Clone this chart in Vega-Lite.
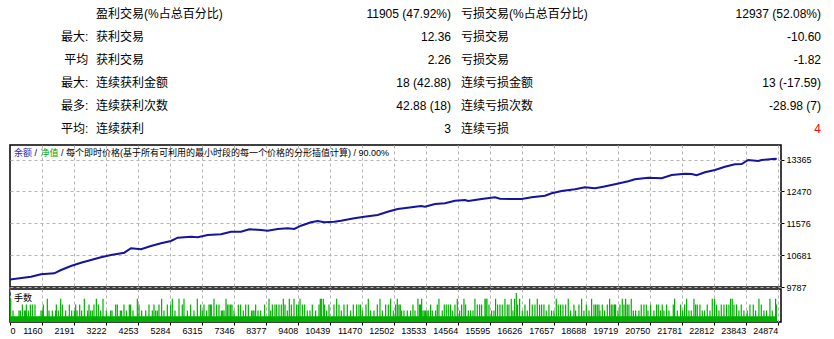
{
  "$schema": "https://vega.github.io/schema/vega-lite/v6.json",
  "background": "white",
  "padding": {"left": 8, "top": 0, "right": 0, "bottom": 0},
  "bounds": "flush",
  "spacing": 2,
  "config": {
    "font": "Liberation Sans",
    "view": {"stroke": "black", "strokeWidth": 1.5},
    "axis": {"labelFont": "Liberation Sans", "labelColor": "black", "labelFontSize": 9, "title": null, "tickCount": 200}
  },
  "datasets": {
    "stats": [
      {"row": 1, "col": 2, "text": "盈利交易(%占总百分比)"},
      {"row": 1, "col": 3, "text": "11905 (47.92%)"},
      {"row": 1, "col": 4, "text": "亏损交易(%占总百分比)"},
      {"row": 1, "col": 5, "text": "12937 (52.08%)"},
      {"row": 2, "col": 1, "text": "最大:"},
      {"row": 2, "col": 2, "text": "获利交易"},
      {"row": 2, "col": 3, "text": "12.36"},
      {"row": 2, "col": 4, "text": "亏损交易"},
      {"row": 2, "col": 5, "text": "-10.60"},
      {"row": 3, "col": 1, "text": "平均"},
      {"row": 3, "col": 2, "text": "获利交易"},
      {"row": 3, "col": 3, "text": "2.26"},
      {"row": 3, "col": 4, "text": "亏损交易"},
      {"row": 3, "col": 5, "text": "-1.82"},
      {"row": 4, "col": 1, "text": "最大:"},
      {"row": 4, "col": 2, "text": "连续获利金额"},
      {"row": 4, "col": 3, "text": "18 (42.88)"},
      {"row": 4, "col": 4, "text": "连续亏损金额"},
      {"row": 4, "col": 5, "text": "13 (-17.59)"},
      {"row": 5, "col": 1, "text": "最多:"},
      {"row": 5, "col": 2, "text": "连续获利次数"},
      {"row": 5, "col": 3, "text": "42.88 (18)"},
      {"row": 5, "col": 4, "text": "连续亏损次数"},
      {"row": 5, "col": 5, "text": "-28.98 (7)"},
      {"row": 6, "col": 1, "text": "平均:"},
      {"row": 6, "col": 2, "text": "连续获利"},
      {"row": 6, "col": 3, "text": "3"},
      {"row": 6, "col": 4, "text": "连续亏损"},
      {"row": 6, "col": 5, "text": "4"}
    ],
    "balance": [
      {"trade": 129, "balance": 10000}, {"trade": 806, "balance": 10076}, {"trade": 1128, "balance": 10144},
      {"trade": 1557, "balance": 10172}, {"trade": 1773, "balance": 10264}, {"trade": 2095, "balance": 10377},
      {"trade": 2417, "balance": 10469}, {"trade": 2740, "balance": 10545}, {"trade": 3062, "balance": 10621},
      {"trade": 3384, "balance": 10686}, {"trade": 3813, "balance": 10750}, {"trade": 4029, "balance": 10874},
      {"trade": 4351, "balance": 10846}, {"trade": 4673, "balance": 10938}, {"trade": 4996, "balance": 11014},
      {"trade": 5318, "balance": 11079}, {"trade": 5534, "balance": 11171}, {"trade": 5963, "balance": 11199},
      {"trade": 6179, "balance": 11183}, {"trade": 6501, "balance": 11247}, {"trade": 6930, "balance": 11267},
      {"trade": 7252, "balance": 11340}, {"trade": 7574, "balance": 11340}, {"trade": 7842, "balance": 11407},
      {"trade": 8219, "balance": 11388}, {"trade": 8435, "balance": 11368}, {"trade": 8757, "balance": 11416},
      {"trade": 9079, "balance": 11435}, {"trade": 9292, "balance": 11416}, {"trade": 9508, "balance": 11508},
      {"trade": 9830, "balance": 11604}, {"trade": 10046, "balance": 11640}, {"trade": 10259, "balance": 11604},
      {"trade": 10581, "balance": 11621}, {"trade": 10797, "balance": 11649}, {"trade": 11226, "balance": 11716},
      {"trade": 11548, "balance": 11761}, {"trade": 11980, "balance": 11809}, {"trade": 12302, "balance": 11901},
      {"trade": 12625, "balance": 11977}, {"trade": 12947, "balance": 12014}, {"trade": 13376, "balance": 12061},
      {"trade": 13504, "balance": 12042}, {"trade": 13827, "balance": 12118}, {"trade": 14149, "balance": 12137},
      {"trade": 14471, "balance": 12210}, {"trade": 14794, "balance": 12230}, {"trade": 14900, "balance": 12202},
      {"trade": 15332, "balance": 12258}, {"trade": 15761, "balance": 12306}, {"trade": 15922, "balance": 12266},
      {"trade": 16299, "balance": 12258}, {"trade": 16621, "balance": 12258}, {"trade": 16943, "balance": 12306},
      {"trade": 17372, "balance": 12351}, {"trade": 17588, "balance": 12418}, {"trade": 17910, "balance": 12483},
      {"trade": 18339, "balance": 12530}, {"trade": 18661, "balance": 12587}, {"trade": 18984, "balance": 12558},
      {"trade": 19251, "balance": 12603}, {"trade": 19628, "balance": 12671}, {"trade": 20057, "balance": 12755},
      {"trade": 20273, "balance": 12811}, {"trade": 20701, "balance": 12856}, {"trade": 21133, "balance": 12839},
      {"trade": 21456, "balance": 12932}, {"trade": 21884, "balance": 12968}, {"trade": 22100, "balance": 12960},
      {"trade": 22261, "balance": 12923}, {"trade": 22529, "balance": 13008}, {"trade": 22851, "balance": 13072},
      {"trade": 23173, "balance": 13165}, {"trade": 23496, "balance": 13232}, {"trade": 23712, "balance": 13241},
      {"trade": 23924, "balance": 13353}, {"trade": 24247, "balance": 13325}, {"trade": 24356, "balance": 13353},
      {"trade": 24785, "balance": 13390}, {"trade": 24842, "balance": 13381}
    ],
    "caption": [
      {"part": "balance", "label": "余额"},
      {"part": "sep1", "label": "/"},
      {"part": "equity", "label": "净值"},
      {"part": "rest", "label": "/ 每个即时价格(基于所有可利用的最小时段的每一个价格的分形插值计算) / 90.00%"}
    ],
    "minLot": [{"first": 1, "last": 24842, "lots": 0.01}],
    "lots": [
      {"trade": 151, "lots": 0.04}, {"trade": 226, "lots": 0.02}, {"trade": 419, "lots": 0.02}, {"trade": 462, "lots": 0.02},
      {"trade": 527, "lots": 0.03}, {"trade": 591, "lots": 0.02}, {"trade": 634, "lots": 0.02}, {"trade": 656, "lots": 0.03},
      {"trade": 720, "lots": 0.02}, {"trade": 785, "lots": 0.03}, {"trade": 849, "lots": 0.03}, {"trade": 935, "lots": 0.03},
      {"trade": 1128, "lots": 0.02}, {"trade": 1171, "lots": 0.02}, {"trade": 1204, "lots": 0.03}, {"trade": 1332, "lots": 0.04},
      {"trade": 1386, "lots": 0.02}, {"trade": 1494, "lots": 0.02}, {"trade": 1601, "lots": 0.02}, {"trade": 1623, "lots": 0.03},
      {"trade": 1687, "lots": 0.02}, {"trade": 1762, "lots": 0.04}, {"trade": 1816, "lots": 0.03}, {"trade": 1923, "lots": 0.02},
      {"trade": 2041, "lots": 0.03}, {"trade": 2117, "lots": 0.02}, {"trade": 2203, "lots": 0.02}, {"trade": 2246, "lots": 0.03},
      {"trade": 2289, "lots": 0.02}, {"trade": 2375, "lots": 0.03}, {"trade": 2439, "lots": 0.02}, {"trade": 2525, "lots": 0.04},
      {"trade": 2632, "lots": 0.02}, {"trade": 2675, "lots": 0.03}, {"trade": 2729, "lots": 0.02}, {"trade": 2783, "lots": 0.02},
      {"trade": 2836, "lots": 0.03}, {"trade": 2912, "lots": 0.04}, {"trade": 2976, "lots": 0.03}, {"trade": 3051, "lots": 0.02},
      {"trade": 3127, "lots": 0.04}, {"trade": 3234, "lots": 0.02}, {"trade": 3374, "lots": 0.02}, {"trade": 3417, "lots": 0.02},
      {"trade": 3535, "lots": 0.03}, {"trade": 3588, "lots": 0.03}, {"trade": 3685, "lots": 0.02}, {"trade": 3728, "lots": 0.02},
      {"trade": 3803, "lots": 0.03}, {"trade": 3879, "lots": 0.02}, {"trade": 3975, "lots": 0.03}, {"trade": 4018, "lots": 0.03},
      {"trade": 4093, "lots": 0.02}, {"trade": 4233, "lots": 0.04}, {"trade": 4287, "lots": 0.03}, {"trade": 4373, "lots": 0.02},
      {"trade": 4502, "lots": 0.02}, {"trade": 4609, "lots": 0.03}, {"trade": 4716, "lots": 0.02}, {"trade": 4770, "lots": 0.03},
      {"trade": 4824, "lots": 0.02}, {"trade": 4878, "lots": 0.02}, {"trade": 4931, "lots": 0.03}, {"trade": 5017, "lots": 0.04},
      {"trade": 5092, "lots": 0.02}, {"trade": 5200, "lots": 0.03}, {"trade": 5307, "lots": 0.03}, {"trade": 5361, "lots": 0.04},
      {"trade": 5447, "lots": 0.02}, {"trade": 5576, "lots": 0.04}, {"trade": 5683, "lots": 0.03}, {"trade": 5737, "lots": 0.04},
      {"trade": 5845, "lots": 0.02}, {"trade": 5952, "lots": 0.03}, {"trade": 6059, "lots": 0.02}, {"trade": 6167, "lots": 0.04},
      {"trade": 6274, "lots": 0.03}, {"trade": 6328, "lots": 0.02},
      {"trade": 6382, "lots": 0.03}, {"trade": 6468, "lots": 0.02}, {"trade": 6543, "lots": 0.03}, {"trade": 6586, "lots": 0.03},
      {"trade": 6618, "lots": 0.03}, {"trade": 6704, "lots": 0.04}, {"trade": 6790, "lots": 0.03}, {"trade": 6865, "lots": 0.03},
      {"trade": 6941, "lots": 0.02}, {"trade": 6984, "lots": 0.02}, {"trade": 7027, "lots": 0.02}, {"trade": 7091, "lots": 0.04},
      {"trade": 7134, "lots": 0.03}, {"trade": 7188, "lots": 0.03}, {"trade": 7241, "lots": 0.03}, {"trade": 7284, "lots": 0.03},
      {"trade": 7349, "lots": 0.02}, {"trade": 7489, "lots": 0.03}, {"trade": 7564, "lots": 0.03}, {"trade": 7649, "lots": 0.02},
      {"trade": 7725, "lots": 0.03}, {"trade": 7811, "lots": 0.03}, {"trade": 7918, "lots": 0.02}, {"trade": 7961, "lots": 0.02},
      {"trade": 7993, "lots": 0.02}, {"trade": 8047, "lots": 0.03}, {"trade": 8122, "lots": 0.02}, {"trade": 8208, "lots": 0.02},
      {"trade": 8337, "lots": 0.03}, {"trade": 8477, "lots": 0.04}, {"trade": 8531, "lots": 0.02}, {"trade": 8585, "lots": 0.03},
      {"trade": 8670, "lots": 0.03}, {"trade": 8724, "lots": 0.03}, {"trade": 8799, "lots": 0.03}, {"trade": 8874, "lots": 0.03},
      {"trade": 8939, "lots": 0.04}, {"trade": 8993, "lots": 0.03}, {"trade": 9068, "lots": 0.02}, {"trade": 9132, "lots": 0.04},
      {"trade": 9197, "lots": 0.03}, {"trade": 9283, "lots": 0.04}, {"trade": 9369, "lots": 0.03}, {"trade": 9422, "lots": 0.03},
      {"trade": 9476, "lots": 0.04}, {"trade": 9551, "lots": 0.03}, {"trade": 9626, "lots": 0.03}, {"trade": 9712, "lots": 0.02},
      {"trade": 9798, "lots": 0.02}, {"trade": 9873, "lots": 0.03}, {"trade": 9981, "lots": 0.02}, {"trade": 10088, "lots": 0.03},
      {"trade": 10131, "lots": 0.04}, {"trade": 10164, "lots": 0.04}, {"trade": 10228, "lots": 0.04}, {"trade": 10271, "lots": 0.03},
      {"trade": 10335, "lots": 0.02}, {"trade": 10411, "lots": 0.03}, {"trade": 10572, "lots": 0.03}, {"trade": 10658, "lots": 0.04},
      {"trade": 10733, "lots": 0.03}, {"trade": 10808, "lots": 0.02}, {"trade": 10894, "lots": 0.03}, {"trade": 11001, "lots": 0.03},
      {"trade": 11109, "lots": 0.02}, {"trade": 11195, "lots": 0.03}, {"trade": 11302, "lots": 0.03}, {"trade": 11377, "lots": 0.03},
      {"trade": 11431, "lots": 0.03}, {"trade": 11485, "lots": 0.02}, {"trade": 11603, "lots": 0.03}, {"trade": 11678, "lots": 0.04},
      {"trade": 11754, "lots": 0.02}, {"trade": 11861, "lots": 0.02}, {"trade": 11968, "lots": 0.03}, {"trade": 12054, "lots": 0.04},
      {"trade": 12130, "lots": 0.02}, {"trade": 12237, "lots": 0.03}, {"trade": 12323, "lots": 0.03}, {"trade": 12398, "lots": 0.04},
      {"trade": 12484, "lots": 0.02}, {"trade": 12559, "lots": 0.03}, {"trade": 12613, "lots": 0.04},
      {"trade": 12666, "lots": 0.03}, {"trade": 12709, "lots": 0.03}, {"trade": 12752, "lots": 0.02}, {"trade": 12827, "lots": 0.02},
      {"trade": 12935, "lots": 0.02}, {"trade": 13042, "lots": 0.02}, {"trade": 13117, "lots": 0.03}, {"trade": 13182, "lots": 0.02},
      {"trade": 13278, "lots": 0.04}, {"trade": 13332, "lots": 0.03}, {"trade": 13364, "lots": 0.03}, {"trade": 13397, "lots": 0.04},
      {"trade": 13439, "lots": 0.02}, {"trade": 13482, "lots": 0.02}, {"trade": 13525, "lots": 0.02}, {"trade": 13568, "lots": 0.02},
      {"trade": 13611, "lots": 0.02}, {"trade": 13687, "lots": 0.03}, {"trade": 13740, "lots": 0.02}, {"trade": 13848, "lots": 0.02},
      {"trade": 13901, "lots": 0.03}, {"trade": 13955, "lots": 0.04}, {"trade": 14062, "lots": 0.02}, {"trade": 14127, "lots": 0.03},
      {"trade": 14191, "lots": 0.03}, {"trade": 14256, "lots": 0.03}, {"trade": 14331, "lots": 0.03}, {"trade": 14385, "lots": 0.02},
      {"trade": 14471, "lots": 0.03}, {"trade": 14546, "lots": 0.04}, {"trade": 14621, "lots": 0.02}, {"trade": 14686, "lots": 0.03},
      {"trade": 14761, "lots": 0.04}, {"trade": 14815, "lots": 0.03}, {"trade": 14901, "lots": 0.02}, {"trade": 14976, "lots": 0.02},
      {"trade": 15051, "lots": 0.02}, {"trade": 15115, "lots": 0.04}, {"trade": 15191, "lots": 0.03}, {"trade": 15266, "lots": 0.03},
      {"trade": 15330, "lots": 0.03}, {"trade": 15438, "lots": 0.04}, {"trade": 15470, "lots": 0.04}, {"trade": 15502, "lots": 0.04},
      {"trade": 15567, "lots": 0.03}, {"trade": 15653, "lots": 0.02}, {"trade": 15728, "lots": 0.02}, {"trade": 15781, "lots": 0.04},
      {"trade": 15846, "lots": 0.03}, {"trade": 15921, "lots": 0.03}, {"trade": 15996, "lots": 0.03}, {"trade": 16082, "lots": 0.04},
      {"trade": 16157, "lots": 0.03}, {"trade": 16211, "lots": 0.03}, {"trade": 16286, "lots": 0.04}, {"trade": 16340, "lots": 0.02},
      {"trade": 16394, "lots": 0.04}, {"trade": 16448, "lots": 0.05}, {"trade": 16490, "lots": 0.03}, {"trade": 16555, "lots": 0.04},
      {"trade": 16641, "lots": 0.02}, {"trade": 16727, "lots": 0.03}, {"trade": 16802, "lots": 0.02}, {"trade": 16877, "lots": 0.04},
      {"trade": 16963, "lots": 0.03}, {"trade": 17049, "lots": 0.03}, {"trade": 17124, "lots": 0.04}, {"trade": 17199, "lots": 0.03},
      {"trade": 17264, "lots": 0.03}, {"trade": 17339, "lots": 0.03}, {"trade": 17414, "lots": 0.02}, {"trade": 17500, "lots": 0.03},
      {"trade": 17586, "lots": 0.02}, {"trade": 17661, "lots": 0.02}, {"trade": 17737, "lots": 0.04}, {"trade": 17801, "lots": 0.03},
      {"trade": 17876, "lots": 0.03}, {"trade": 17952, "lots": 0.03}, {"trade": 18038, "lots": 0.03}, {"trade": 18123, "lots": 0.04},
      {"trade": 18199, "lots": 0.02}, {"trade": 18306, "lots": 0.03}, {"trade": 18360, "lots": 0.02}, {"trade": 18467, "lots": 0.03},
      {"trade": 18553, "lots": 0.04}, {"trade": 18628, "lots": 0.02}, {"trade": 18704, "lots": 0.03}, {"trade": 18790, "lots": 0.02},
      {"trade": 18875, "lots": 0.04},
      {"trade": 18951, "lots": 0.03}, {"trade": 19005, "lots": 0.03}, {"trade": 19058, "lots": 0.03}, {"trade": 19112, "lots": 0.03},
      {"trade": 19144, "lots": 0.02}, {"trade": 19220, "lots": 0.03}, {"trade": 19295, "lots": 0.02}, {"trade": 19381, "lots": 0.03},
      {"trade": 19456, "lots": 0.04}, {"trade": 19510, "lots": 0.03}, {"trade": 19563, "lots": 0.03}, {"trade": 19617, "lots": 0.03},
      {"trade": 19649, "lots": 0.03}, {"trade": 19724, "lots": 0.02}, {"trade": 19789, "lots": 0.03}, {"trade": 19864, "lots": 0.04},
      {"trade": 19918, "lots": 0.03}, {"trade": 19972, "lots": 0.04}, {"trade": 20025, "lots": 0.03}, {"trade": 20079, "lots": 0.03},
      {"trade": 20154, "lots": 0.04}, {"trade": 20219, "lots": 0.02}, {"trade": 20294, "lots": 0.02}, {"trade": 20401, "lots": 0.02},
      {"trade": 20476, "lots": 0.03}, {"trade": 20562, "lots": 0.03}, {"trade": 20638, "lots": 0.03}, {"trade": 20691, "lots": 0.02},
      {"trade": 20777, "lots": 0.03}, {"trade": 20885, "lots": 0.02}, {"trade": 20971, "lots": 0.03}, {"trade": 21024, "lots": 0.03},
      {"trade": 21100, "lots": 0.02}, {"trade": 21153, "lots": 0.03}, {"trade": 21207, "lots": 0.02}, {"trade": 21293, "lots": 0.03},
      {"trade": 21368, "lots": 0.02}, {"trade": 21508, "lots": 0.03}, {"trade": 21551, "lots": 0.04}, {"trade": 21637, "lots": 0.02},
      {"trade": 21744, "lots": 0.03}, {"trade": 21809, "lots": 0.02}, {"trade": 21873, "lots": 0.03}, {"trade": 21938, "lots": 0.04},
      {"trade": 22013, "lots": 0.02}, {"trade": 22088, "lots": 0.02}, {"trade": 22174, "lots": 0.04}, {"trade": 22228, "lots": 0.03},
      {"trade": 22281, "lots": 0.03}, {"trade": 22367, "lots": 0.03}, {"trade": 22442, "lots": 0.02}, {"trade": 22518, "lots": 0.02},
      {"trade": 22604, "lots": 0.03}, {"trade": 22690, "lots": 0.02}, {"trade": 22765, "lots": 0.04}, {"trade": 22840, "lots": 0.04},
      {"trade": 22904, "lots": 0.03}, {"trade": 22980, "lots": 0.02}, {"trade": 23055, "lots": 0.03}, {"trade": 23141, "lots": 0.03},
      {"trade": 23227, "lots": 0.03}, {"trade": 23302, "lots": 0.03}, {"trade": 23356, "lots": 0.04}, {"trade": 23409, "lots": 0.04},
      {"trade": 23463, "lots": 0.03}, {"trade": 23549, "lots": 0.03}, {"trade": 23624, "lots": 0.02}, {"trade": 23699, "lots": 0.03},
      {"trade": 23785, "lots": 0.02}, {"trade": 23893, "lots": 0.02}, {"trade": 23979, "lots": 0.03}, {"trade": 24086, "lots": 0.03},
      {"trade": 24161, "lots": 0.02}, {"trade": 24269, "lots": 0.04}, {"trade": 24344, "lots": 0.03}, {"trade": 24430, "lots": 0.02},
      {"trade": 24516, "lots": 0.02}, {"trade": 24623, "lots": 0.04}, {"trade": 24698, "lots": 0.02}, {"trade": 24806, "lots": 0.04},
      {"trade": 24830, "lots": 0.03}
    ]
  },
  "vconcat": [
    {
      "width": 771,
      "height": 143,
      "view": {"stroke": null},
      "data": {"name": "stats"},
      "encoding": {
        "x": {"field": "col", "type": "quantitative", "axis": null,
              "scale": {"domain": [1, 2, 3, 4, 5], "range": [78.3, 86, 441, 451, 811], "nice": false, "zero": false}},
        "y": {"field": "row", "type": "ordinal", "axis": null,
              "scale": {"type": "point", "range": [13.5, 128.5], "padding": 0}},
        "text": {"field": "text"},
        "color": {"condition": {"test": "datum.row === 6 && datum.col === 5", "value": "#ff0000"}, "value": "#000000"}
      },
      "layer": [
        {"transform": [{"filter": "datum.col % 2 === 1"}],
         "mark": {"type": "text", "align": "right", "baseline": "middle", "fontSize": 12, "font": "Liberation Sans, Noto Sans CJK SC"}},
        {"transform": [{"filter": "datum.col % 2 === 0"}],
         "mark": {"type": "text", "align": "left", "baseline": "middle", "fontSize": 12, "font": "Liberation Sans, Noto Sans CJK SC"}}
      ]
    },
    {
      "width": 771,
      "height": 142,
      "layer": [
        {
          "data": {"name": "balance"},
          "mark": {"type": "line", "color": "#1414a0", "strokeWidth": 2, "clip": true},
          "encoding": {
            "x": {"field": "trade", "type": "quantitative",
                  "scale": {"domain": [129, 24980], "nice": false, "zero": false},
                  "axis": {"values": [1160, 2191, 3222, 4253, 5284, 6315, 7346, 8377, 9408, 10439, 11470, 12502, 13533, 14564, 15595, 16626, 17657, 18688, 19719, 20750, 21781, 22812, 23843, 24874],
                           "labels": false, "ticks": false, "domain": false, "grid": true,
                           "gridDash": [3, 3], "gridColor": "#b4b4b4", "gridWidth": 1}},
            "y": {"field": "balance", "type": "quantitative",
                  "scale": {"domain": [9787, 13774], "nice": false, "zero": false},
                  "axis": {"orient": "right", "values": [9787, 10681, 11576, 12470, 13365], "format": "d",
                           "grid": true, "gridDash": [3, 3], "gridColor": "#b4b4b4", "gridWidth": 1,
                           "domain": false, "ticks": true, "tickSize": 3, "tickColor": "#000000",
                           "labelPadding": 2, "labelFlush": false, "labelOverlap": false}}
          }
        },
        {
          "data": {"name": "caption"},
          "transform": [{"filter": "datum.part === 'balance'"}],
          "mark": {"type": "text", "align": "left", "baseline": "middle", "dx": 4, "dy": 8, "fontSize": 9, "color": "#2828b4", "font": "Liberation Sans, Noto Sans CJK SC"},
          "encoding": {"x": {"datum": 129, "type": "quantitative"}, "y": {"datum": 13774, "type": "quantitative"}, "text": {"field": "label"}}
        },
        {
          "data": {"name": "caption"},
          "transform": [{"filter": "datum.part === 'sep1'"}],
          "mark": {"type": "text", "align": "left", "baseline": "middle", "dx": 24.5, "dy": 8, "fontSize": 9, "color": "#000000", "font": "Liberation Sans, Noto Sans CJK SC"},
          "encoding": {"x": {"datum": 129, "type": "quantitative"}, "y": {"datum": 13774, "type": "quantitative"}, "text": {"field": "label"}}
        },
        {
          "data": {"name": "caption"},
          "transform": [{"filter": "datum.part === 'equity'"}],
          "mark": {"type": "text", "align": "left", "baseline": "middle", "dx": 30.5, "dy": 8, "fontSize": 9, "color": "#00a000", "font": "Liberation Sans, Noto Sans CJK SC"},
          "encoding": {"x": {"datum": 129, "type": "quantitative"}, "y": {"datum": 13774, "type": "quantitative"}, "text": {"field": "label"}}
        },
        {
          "data": {"name": "caption"},
          "transform": [{"filter": "datum.part === 'rest'"}],
          "mark": {"type": "text", "align": "left", "baseline": "middle", "dx": 51, "dy": 8, "fontSize": 9, "color": "#000000", "font": "Liberation Sans, Noto Sans CJK SC"},
          "encoding": {"x": {"datum": 129, "type": "quantitative"}, "y": {"datum": 13774, "type": "quantitative"}, "text": {"field": "label"}}
        }
      ]
    },
    {
      "width": 771,
      "height": 33,
      "layer": [
        {
          "data": {"name": "minLot"},
          "mark": {"type": "rect", "color": "#00b000", "clip": true},
          "encoding": {
            "x": {"field": "first", "type": "quantitative",
                  "scale": {"domain": [129, 24980], "nice": false, "zero": false},
                  "axis": {"values": [129, 1160, 2191, 3222, 4253, 5284, 6315, 7346, 8377, 9408, 10439, 11470, 12502, 13533, 14564, 15595, 16626, 17657, 18688, 19719, 20750, 21781, 22812, 23843, 24874],
                           "format": "d", "labelExpr": "datum.value < 500 ? '0' : datum.label",
                           "labelAlign": {"condition": {"test": "datum.value < 500", "value": "left"}, "value": "right"},
                           "labelBaseline": "top", "labelPadding": 1, "labelFlush": false, "labelOverlap": false,
                           "ticks": true, "tickSize": 3, "tickColor": "#000000", "domain": false,
                           "grid": true, "gridDash": [3, 3], "gridColor": "#b4b4b4", "gridWidth": 1}},
            "x2": {"field": "last"},
            "y": {"field": "lots", "type": "quantitative", "axis": null,
                  "scale": {"domain": [0, 0.0569], "nice": false, "zero": false}},
            "y2": {"datum": 0}
          }
        },
        {
          "data": {"name": "lots"},
          "mark": {"type": "rule", "color": "#00b000", "strokeWidth": 1.2},
          "encoding": {
            "x": {"field": "trade", "type": "quantitative"},
            "y": {"field": "lots", "type": "quantitative"},
            "y2": {"datum": 0}
          }
        },
        {
          "data": {"values": [{"label": "手数"}]},
          "mark": {"type": "text", "align": "left", "baseline": "middle", "dx": 4, "dy": 8.5, "fontSize": 9, "color": "#000000", "font": "Liberation Sans, Noto Sans CJK SC"},
          "encoding": {
            "x": {"datum": 129, "type": "quantitative"},
            "y": {"datum": 0.0569, "type": "quantitative"},
            "text": {"field": "label"}
          }
        }
      ]
    }
  ]
}
